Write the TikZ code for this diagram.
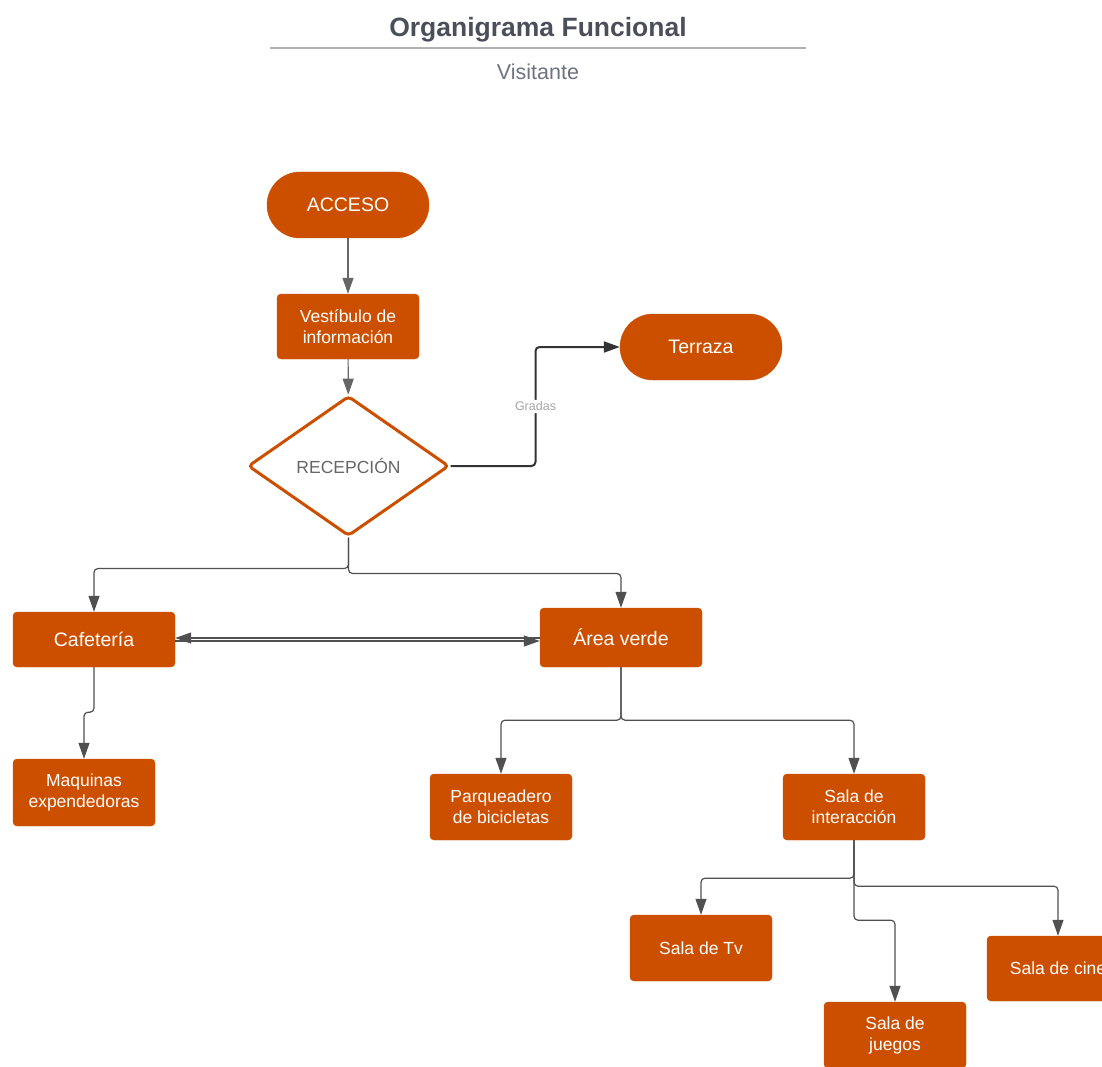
\documentclass[tikz,border=0pt]{standalone}
\usepackage{fontspec}
\setmainfont{Liberation Sans}
\usetikzlibrary{arrows.meta,positioning,shapes.geometric}
\definecolor{naranja}{RGB}{204,79,0}
\definecolor{titulo}{RGB}{74,79,90}
\definecolor{subtitulo}{RGB}{110,115,130}
\definecolor{conector}{RGB}{80,80,80}

\begin{document}
\begin{tikzpicture}[x=1pt, y=-1pt,
  caja/.style={rectangle, draw=naranja, fill=naranja, rounded corners=4pt, text=white,
    minimum width=142pt, minimum height=66pt, inner sep=0pt, align=center,
    font=\fontsize{17.5}{21}\selectfont},
  ovalo/.style={rectangle, draw=naranja, fill=naranja, rounded corners=33pt, text=white,
    minimum width=162pt, minimum height=66pt, inner sep=0pt,
    font=\fontsize{19.5}{23}\selectfont},
  decision/.style={diamond, draw=naranja, fill=white, line width=3pt, rounded corners=4pt,
    minimum width=201pt, minimum height=140pt, inner sep=0pt, text=black!60,
    font=\fontsize{17.5}{21}\selectfont},
  flecha/.style={draw=conector, line width=1.2pt, rounded corners=4pt,
    -{Triangle[length=16pt,width=11pt]}}]
\useasboundingbox (0,0) rectangle (1102,1067);
\clip (0,0) rectangle (1102,1067);

% titulo
\node (titulo) at (538,30) [text=titulo, font=\fontsize{26.5}{30}\selectfont\bfseries] {Organigrama Funcional};
\draw[draw=black!30, line width=2pt] (270,48) -- (806,48);
\node (sub) at (538,72) [text=subtitulo, font=\fontsize{21.5}{25}\selectfont] {Visitante};

% nodos
\node (acceso) at (348,205) [ovalo] {ACCESO};
\node (vestibulo) at (348,326.5) [caja, minimum height=65pt] {Vestíbulo de\\información};
\node (recepcion) at (348.5,466) [decision] {RECEPCIÓN};
\node (terraza) at (701,347) [ovalo] {Terraza};
\node (cafeteria) at (94,639.5) [caja, minimum width=162pt, minimum height=55pt, font=\fontsize{19.5}{23}\selectfont] {Cafetería};
\node (areaverde) at (621,637.5) [caja, minimum width=162pt, minimum height=59pt, font=\fontsize{19.5}{23}\selectfont] {Área verde};
\node (maquinas) at (84,792.5) [caja, minimum height=67pt] {Maquinas\\expendedoras};
\node (parqueadero) at (501,807) [caja] {Parqueadero\\de bicicletas};
\node (salainter) at (854,807) [caja] {Sala de\\interacción};
\node (salatv) at (701,948) [caja] {Sala de Tv};
\node (salajuegos) at (895,1035) [caja] {Sala de\\juegos};
\node (salacine) at (1058,968.5) [caja, minimum height=65pt] {Sala de cine};

% conectores
\draw[flecha, draw=black!60] (acceso) -- (vestibulo);
\draw[flecha, draw=black!60] (vestibulo) -- (recepcion);
\draw[flecha, draw=black!80, line width=2pt] (recepcion.east) -- ++(85,0)
  |- node[pos=0.25, fill=white, text=black!35, inner sep=2pt, font=\fontsize{12.5}{14}\selectfont] {Gradas} (terraza.west);
\draw[flecha] (recepcion.south) -- ++(0,31) -| (cafeteria.north);
\draw[flecha] (recepcion.south) -- ++(0,36) -| (areaverde.north);
\draw[flecha] ([yshift=-0.5pt]areaverde.west) -- ([yshift=-0.5pt]areaverde.west -| cafeteria.east);
\draw[flecha] ([yshift=-3.5pt]areaverde.west -| cafeteria.east) -- ([yshift=-3.5pt]areaverde.west);
\draw[flecha] (cafeteria.south) -- ++(0,45) -| (maquinas.north);
\draw[flecha] (areaverde.south) -- ++(0,53) -| (parqueadero.north);
\draw[flecha] (areaverde.south) -- ++(0,53) -| (salainter.north);
\draw[flecha] (salainter.south) -- ++(0,38) -| (salatv.north);
\draw[flecha] (salainter.south) -- ++(0,46) -| (salacine.north);
\draw[flecha] (salainter.south) -- ++(0,80) -| (salajuegos.north);
\end{tikzpicture}
\end{document}
